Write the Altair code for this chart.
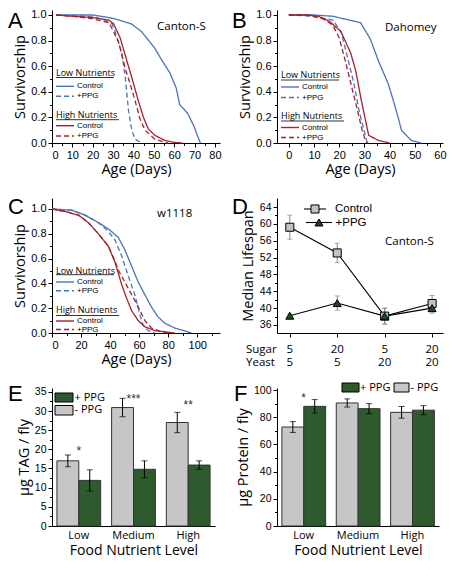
import altair as alt
import pandas as pd

BLUE = "#4a74ba"
RED = "#a3232d"
GREEN = "#2e5b2e"
GRAY = "#c6c6c6"
DKGREEN = "#1f4a1f"
TFONT = "Open Sans"
LFONT = "Liberation Sans"

# ---------------- Panel A: Canton-S ----------------
A_low_ctrl_day = [2, 20, 28, 33, 39, 44, 50.5, 53.8, 57.8, 61, 62.7, 66.7, 70, 71.6, 72.9]
A_low_ctrl_s = [1.0, 1.0, 0.98, 0.96, 0.93, 0.87, 0.74, 0.65, 0.55, 0.43, 0.30, 0.23, 0.12, 0.05, 0.0]
A_low_ppg_day = [2, 15, 22, 26, 29.5, 31, 34.3, 36, 37.6, 39.2, 40.8, 44]
A_low_ppg_s = [1.0, 0.99, 0.98, 0.96, 0.93, 0.87, 0.70, 0.51, 0.25, 0.10, 0.03, 0.0]
A_high_ctrl_day = [2, 10, 20, 27.9, 30.3, 33.5, 36.8, 39.2, 42.4, 44.9, 47.3, 50.5, 55.4, 60, 64]
A_high_ctrl_s = [1.0, 0.99, 0.98, 0.96, 0.93, 0.82, 0.64, 0.51, 0.33, 0.20, 0.11, 0.06, 0.02, 0.005, 0.0]
A_high_ppg_day = [2, 10, 20, 28, 32.7, 36, 38.4, 40.8, 43.2, 45.7, 50.5, 55.4, 57]
A_high_ppg_s = [1.0, 0.99, 0.97, 0.94, 0.79, 0.58, 0.46, 0.33, 0.19, 0.10, 0.03, 0.005, 0.0]

# ---------------- Panel B: Dahomey ----------------
B_low_ctrl_day = [0, 10, 17.5, 24, 28.5, 32.4, 35.6, 39.5, 41.5, 43.4, 44.7, 48.6, 52.5]
B_low_ctrl_s = [1.0, 1.0, 0.99, 0.96, 0.94, 0.81, 0.64, 0.46, 0.33, 0.20, 0.10, 0.02, 0.0]
B_low_ppg_day = [0, 10, 17.5, 20.7, 23.3, 25.9, 27.8, 29.8, 31, 32]
B_low_ppg_s = [1.0, 0.99, 0.96, 0.87, 0.67, 0.46, 0.26, 0.10, 0.01, 0.0]
B_high_ctrl_day = [0, 7, 11.7, 16.2, 20.7, 24.6, 26.6, 28.5, 30.4, 31.7, 35.6, 40]
B_high_ctrl_s = [1.0, 1.0, 0.99, 0.95, 0.87, 0.70, 0.56, 0.36, 0.18, 0.06, 0.02, 0.0]
B_high_ppg_day = [0, 7, 13.6, 17.5, 20, 22.7, 25.3, 27.2, 29.1, 30.4, 31]
B_high_ppg_s = [1.0, 1.0, 0.97, 0.92, 0.82, 0.62, 0.41, 0.26, 0.10, 0.02, 0.0]

# ---------------- Panel C: w1118 ----------------
C_low_ctrl_day = [0, 13.7, 22.8, 32, 38.8, 45.7, 50.2, 54.8, 59.4, 63.9, 68.5, 73, 77.6, 84.5, 93.6, 96]
C_low_ctrl_s = [1.0, 0.99, 0.95, 0.89, 0.84, 0.77, 0.67, 0.54, 0.41, 0.31, 0.21, 0.13, 0.08, 0.04, 0.01, 0.0]
C_low_ppg_day = [0, 13.7, 22.8, 32, 38.8, 43.4, 48, 52.5, 57, 60.5, 62.8, 66.2, 70.8]
C_low_ppg_s = [1.0, 0.99, 0.95, 0.89, 0.82, 0.75, 0.62, 0.46, 0.31, 0.15, 0.06, 0.02, 0.0]
C_high_ctrl_day = [0, 9, 18.3, 25, 32, 38.8, 43.4, 48, 51.4, 54.8, 59.4, 64, 70.8, 77.6, 84.5]
C_high_ctrl_s = [1.0, 0.98, 0.95, 0.89, 0.80, 0.70, 0.57, 0.39, 0.28, 0.18, 0.10, 0.05, 0.02, 0.01, 0.0]
C_high_ppg_day = [0, 9, 18.3, 25, 32, 38.8, 43.4, 46, 50.2, 54.8, 59.4, 64, 68.5, 75, 80]
C_high_ppg_s = [1.0, 0.98, 0.95, 0.89, 0.80, 0.70, 0.58, 0.50, 0.41, 0.31, 0.21, 0.10, 0.04, 0.01, 0.0]

# ---------------- Panel D: median lifespan ----------------
D_pos = [0, 1, 2, 3]
D_sugar = ["5", "20", "5", "20"]
D_yeast = ["5", "5", "20", "20"]
D_ctrl = [59.2, 53.1, 38.1, 41.1]
D_ctrl_err = [2.85, 2.3, 1.9, 1.9]
D_ppg = [38.2, 41.2, 38.1, 40.0]
D_ppg_err = [0.4, 1.7, 1.9, 1.2]

# ---------------- Panels E, F: TAG and protein ----------------
levels = ["Low", "Medium", "High"]
E_minus = [17.0, 30.9, 27.0]
E_minus_err = [1.55, 2.4, 2.65]
E_plus = [11.9, 14.8, 15.9]
E_plus_err = [2.75, 2.2, 1.1]
E_sig = ["*", "***", "**"]
E_sig_y = [20.7, 34.3, 32.5]

F_minus = [72.8, 90.5, 83.6]
F_minus_err = [4.0, 3.0, 4.3]
F_plus = [88.0, 86.3, 85.2]
F_plus_err = [5.0, 3.7, 3.3]
F_sig = ["*", "", ""]
F_sig_y = [97.0, 0, 0]

TRT = ["Control", "+PPG"]
GROUPS = ["Low Nutrients", "High Nutrients"]
BAR_TRT = ["+ PPG", "- PPG"]


def one_row():
    return pd.DataFrame({"k": [0]})


def label(txt, x, y, size, font=TFONT, align="left", baseline="middle"):
    return alt.Chart(one_row()).mark_text(
        text=txt, font=font, fontSize=size, align=align, baseline=baseline, color="black"
    ).encode(x=alt.value(x), y=alt.value(y))


def seg(x1, x2, y, color="black", width=0.8, dash=None):
    kw = {"color": color, "strokeWidth": width}
    if dash:
        kw["strokeDash"] = dash
    return alt.Chart(one_row()).mark_rule(**kw).encode(x=alt.value(x1), x2=alt.value(x2), y=alt.value(y))


def box(x1, x2, y1, y2, fill):
    return alt.Chart(one_row()).mark_rect(fill=fill, stroke="black", strokeWidth=1).encode(
        x=alt.value(x1), x2=alt.value(x2), y=alt.value(y1), y2=alt.value(y2))


def symbol(shape, x, y, fill):
    return alt.Chart(one_row()).mark_point(shape=shape, filled=True, fill=fill, stroke="black",
                                           strokeWidth=1, size=65, opacity=1).encode(
        x=alt.value(x), y=alt.value(y))


def surv_legend(lx, ys, ul_ends):
    """ys: (low title, low underline, ctrl, ppg, high title, high underline, ctrl, ppg)"""
    out = []
    for g, (col, ty, uy, cy, py, ue) in enumerate([
            (BLUE, ys[0], ys[1], ys[2], ys[3], ul_ends[0]),
            (RED, ys[4], ys[5], ys[6], ys[7], ul_ends[1])]):
        out.append(label(GROUPS[g], lx, ty, 9))
        out.append(seg(lx, ue, uy))
        out.append(seg(lx, lx + 18, cy, col, 1.4))
        out.append(seg(lx, lx + 18, py, col, 1.4, [5, 3]))
        out.append(label(TRT[0], lx + 21, cy, 8, font=LFONT))
        out.append(label(TRT[1], lx + 21, py, 8, font=LFONT))
    return out


def survival_panel(series, xdom, xmajor, xminor, ytop, w, h, letter, strain, strain_xy,
                   leg_x, leg_ys, ul_ends, letter_xy):
    rows = []
    for grp, trt, days, surv in series:
        for d, s in zip(days, surv):
            rows.append({"day": d, "surv": s, "grp": grp, "trt": trt})
    df = pd.DataFrame(rows)
    xs = alt.Scale(domain=xdom, nice=False, zero=False)
    ys = alt.Scale(domain=[0, ytop], nice=False, zero=False)
    xax = alt.Axis(values=xmajor, title="Age (Days)", tickSize=4, labelPadding=2,
                   titlePadding=2, labelFontSize=11, titleFontSize=14.5)
    yax = alt.Axis(values=[0, 0.2, 0.4, 0.6, 0.8, 1.0], format=".1f", title="Survivorship",
                   tickSize=4, labelPadding=2, titlePadding=3, labelFontSize=11, titleFontSize=14.5)

    def grp_layer(grp, col, with_axes):
        return alt.Chart(df).transform_filter(alt.datum.grp == grp).mark_line(strokeWidth=1.3).encode(
            x=alt.X("day:Q", scale=xs, axis=xax if with_axes else None),
            y=alt.Y("surv:Q", scale=ys, axis=yax if with_axes else None),
            color=alt.Color("trt:N", scale=alt.Scale(domain=TRT, range=[col, col]), legend=None),
            strokeDash=alt.StrokeDash("trt:N", scale=alt.Scale(domain=TRT, range=[[1, 0], [5, 3]]),
                                      legend=None),
            order="day:Q",
        )

    minor = alt.Chart(df).mark_point(opacity=0).encode(
        x=alt.X("day:Q", scale=xs, axis=alt.Axis(values=xminor, labels=False, domain=False, title=None,
                                                   tickSize=2.5, orient="bottom")),
        y=alt.Y("surv:Q", scale=ys, axis=alt.Axis(values=[0.1, 0.3, 0.5, 0.7, 0.9], labels=False,
                                                    domain=False, title=None, tickSize=2.5, orient="left")),
    )
    layers = [grp_layer("Low", BLUE, True), grp_layer("High", RED, False), minor]
    layers += surv_legend(leg_x, leg_ys, ul_ends)
    layers += [label(strain, strain_xy[0], strain_xy[1], 11.5),
               label(letter, letter_xy[0], letter_xy[1], 22, font=LFONT, baseline="top")]
    return alt.layer(*layers).resolve_scale(color="independent", strokeDash="independent").resolve_axis(
        x="independent", y="independent").properties(width=w, height=h)


A = survival_panel(
    [("Low", "Control", A_low_ctrl_day, A_low_ctrl_s), ("Low", "+PPG", A_low_ppg_day, A_low_ppg_s),
     ("High", "Control", A_high_ctrl_day, A_high_ctrl_s), ("High", "+PPG", A_high_ppg_day, A_high_ppg_s)],
    [0, 82.5], list(range(0, 81, 10)), list(range(5, 81, 10)), 1.039, 168, 133,
    "A", "Canton-S", (105, 17), 4, (63, 67.5, 76.3, 86.3, 104.5, 109.7, 115.7, 126), (62, 67), (-44, 0.5))

B = survival_panel(
    [("Low", "Control", B_low_ctrl_day, B_low_ctrl_s), ("Low", "+PPG", B_low_ppg_day, B_low_ppg_s),
     ("High", "Control", B_high_ctrl_day, B_high_ctrl_s), ("High", "+PPG", B_high_ppg_day, B_high_ppg_s)],
    [-4.7, 61.2], list(range(0, 61, 10)), [-5] + list(range(5, 61, 10)), 1.039, 166, 133,
    "B", "Dahomey", (108, 18), 4, (64.7, 70, 77, 87.5, 106, 111, 117.5, 127.5), (62, 67), (-45, 0.5))

C = survival_panel(
    [("Low", "Control", C_low_ctrl_day, C_low_ctrl_s), ("Low", "+PPG", C_low_ppg_day, C_low_ppg_s),
     ("High", "Control", C_high_ctrl_day, C_high_ctrl_s), ("High", "+PPG", C_high_ppg_day, C_high_ppg_s)],
    [0, 115.7], list(range(0, 101, 20)), list(range(10, 111, 20)), 1.0887, 168, 135,
    "C", "w1118", (105, 16), 4, (72.5, 76.7, 84, 92.7, 112, 117.5, 123, 131.5), (62, 67), (-44, -1))

# ---- Panel D ----
d_rows = []
for i in range(4):
    d_rows.append({"pos": D_pos[i], "val": D_ctrl[i], "lo": D_ctrl[i] - D_ctrl_err[i],
                   "hi": D_ctrl[i] + D_ctrl_err[i], "series": "Control"})
    d_rows.append({"pos": D_pos[i], "val": D_ppg[i], "lo": D_ppg[i] - D_ppg_err[i],
                   "hi": D_ppg[i] + D_ppg_err[i], "series": "+PPG"})
ddf = pd.DataFrame(d_rows)
dxs = alt.Scale(domain=[-0.27, 3.23], nice=False, zero=False)
dys = alt.Scale(domain=[34.1, 66.14], nice=False, zero=False)
dx_ax = alt.Axis(values=[0, 0.5, 1, 1.5, 2, 2.5, 3], labels=False, title=None, tickSize=4)
dy_ax = alt.Axis(values=list(range(36, 65, 4)), title="Median Lifespan", tickSize=4, labelPadding=2,
                 titlePadding=4, labelFontSize=10.5, titleFontSize=14.5)
dbase = alt.Chart(ddf)
d_lines = dbase.mark_line(strokeWidth=1.1, color="black").encode(
    x=alt.X("pos:Q", scale=dxs, axis=dx_ax),
    y=alt.Y("val:Q", scale=dys, axis=dy_ax),
    detail="series:N",
)
d_err = dbase.mark_rule(color="#8a8a8a", strokeWidth=1).encode(
    x=alt.X("pos:Q", scale=dxs), y=alt.Y("lo:Q", scale=dys, axis=None), y2="hi:Q")
d_cap_lo = dbase.mark_tick(color="#8a8a8a", size=5, thickness=1, orient="horizontal").encode(
    x=alt.X("pos:Q", scale=dxs), y=alt.Y("lo:Q", scale=dys, axis=None))
d_cap_hi = dbase.mark_tick(color="#8a8a8a", size=5, thickness=1, orient="horizontal").encode(
    x=alt.X("pos:Q", scale=dxs), y=alt.Y("hi:Q", scale=dys, axis=None))
d_pts = dbase.mark_point(filled=True, size=65, stroke="black", strokeWidth=1, opacity=1).encode(
    x=alt.X("pos:Q", scale=dxs),
    y=alt.Y("val:Q", scale=dys, axis=None),
    shape=alt.Shape("series:N", scale=alt.Scale(domain=TRT, range=["square", "triangle-up"]), legend=None),
    fill=alt.Fill("series:N", scale=alt.Scale(domain=TRT, range=["#c2c2c2", DKGREEN]), legend=None),
)
d_minor = dbase.mark_point(opacity=0).encode(
    x=alt.X("pos:Q", scale=dxs),
    y=alt.Y("val:Q", scale=dys, axis=alt.Axis(values=list(range(34, 65, 4)), labels=False, domain=False,
                                                title=None, tickSize=2.5, orient="left")))
sy_df = pd.DataFrame({"pos": D_pos, "sugar": D_sugar, "yeast": D_yeast})
d_sugar = alt.Chart(sy_df).mark_text(font=TFONT, fontSize=11.5, baseline="middle").encode(
    x=alt.X("pos:Q", scale=dxs), y=alt.value(152), text="sugar:N")
d_yeast = alt.Chart(sy_df).mark_text(font=TFONT, fontSize=11.5, baseline="middle").encode(
    x=alt.X("pos:Q", scale=dxs), y=alt.value(165), text="yeast:N")
d_legend = [
    seg(27, 49, 11, "black", 1.1), symbol("square", 38, 11, "#c2c2c2"),
    label(TRT[0], 58, 11, 11.5, font=LFONT),
    seg(29, 55, 24.5, "black", 1.1), symbol("triangle-up", 42, 24.5, DKGREEN),
    label(TRT[1], 58.5, 24.5, 11.5, font=LFONT),
]
D = alt.layer(
    d_err, d_cap_lo, d_cap_hi, d_lines, d_pts, d_minor, d_sugar, d_yeast, *d_legend,
    label("Sugar", -31, 152, 11.5), label("Yeast", -31, 165, 11.5),
    label("Canton-S", 108, 44, 11.5), label("D", -45, -1, 22, font=LFONT, baseline="top"),
).resolve_scale(shape="independent", fill="independent").resolve_axis(
    y="independent").properties(width=166, height=135)


def bar_panel(minus, minus_err, plus, plus_err, sig, sig_y, ytop, yvals, yminor, ytitle, legend_layers,
              letter, letter_xy, w):
    rows = []
    for i, lv in enumerate(levels):
        rows.append({"level": lv, "trt": "- PPG", "val": minus[i], "lo": minus[i] - minus_err[i],
                     "hi": minus[i] + minus_err[i]})
        rows.append({"level": lv, "trt": "+ PPG", "val": plus[i], "lo": plus[i] - plus_err[i],
                     "hi": plus[i] + plus_err[i]})
    df = pd.DataFrame(rows)
    xs = alt.Scale(domain=levels, paddingInner=0.2, paddingOuter=0.09)
    ys = alt.Scale(domain=[0, ytop], nice=False, zero=True)
    xo = alt.XOffset("trt:N", scale=alt.Scale(domain=["- PPG", "+ PPG"], paddingInner=0, paddingOuter=0))
    xax = alt.Axis(title="Food Nutrient Level", labelAngle=0, ticks=False, labelPadding=3,
                   labelFontSize=11, labelFont=TFONT, titleFontSize=14, titlePadding=3)
    yax = alt.Axis(values=yvals, title=ytitle, tickSize=4, labelPadding=2, titlePadding=3,
                   labelFontSize=10.5, titleFontSize=14.5)
    base = alt.Chart(df)
    xenc = alt.X("level:N", scale=xs, sort=levels, axis=xax)
    bars = base.mark_bar(stroke="#333333", strokeWidth=1).encode(
        x=xenc,
        xOffset=xo,
        y=alt.Y("val:Q", scale=ys, axis=yax),
        color=alt.Color("trt:N", scale=alt.Scale(domain=BAR_TRT, range=[GREEN, GRAY]), legend=None),
    )
    err = base.mark_rule(color="black", strokeWidth=1).encode(
        x=xenc, xOffset=xo, y=alt.Y("lo:Q", scale=ys, axis=None), y2="hi:Q")
    cap_lo = base.mark_tick(color="black", size=6, thickness=1, orient="horizontal").encode(
        x=xenc, xOffset=xo, y=alt.Y("lo:Q", scale=ys, axis=None))
    cap_hi = base.mark_tick(color="black", size=6, thickness=1, orient="horizontal").encode(
        x=xenc, xOffset=xo, y=alt.Y("hi:Q", scale=ys, axis=None))
    sdf = pd.DataFrame({"level": levels, "sig": sig, "sy": sig_y})
    stars = alt.Chart(sdf).mark_text(font=LFONT, fontSize=12, baseline="middle", dy=4, color="#333").encode(
        x=xenc, y=alt.Y("sy:Q", scale=ys, axis=None), text="sig:N")
    minor = base.mark_point(opacity=0).encode(
        x=xenc,
        y=alt.Y("val:Q", scale=ys, axis=alt.Axis(values=yminor, labels=False, domain=False, title=None,
                                                   tickSize=2.5, orient="left")))
    return alt.layer(bars, err, cap_lo, cap_hi, stars, minor, *legend_layers,
                     label(letter, letter_xy[0], letter_xy[1], 22, font=LFONT, baseline="top")
                     ).resolve_axis(y="independent").properties(width=w, height=138)


E_legend = [
    box(3, 21, 5, 14, GREEN), label(BAR_TRT[0], 22.5, 9.5, 11),
    box(3, 21, 17.5, 27, GRAY), label(BAR_TRT[1], 22.5, 22.3, 11),
]
F_legend = [
    box(65, 82, -5, 4, GREEN), label(BAR_TRT[0], 83, -0.5, 11),
    box(117, 132, -5, 4, GRAY), label(BAR_TRT[1], 133.5, -0.5, 11),
]

E = bar_panel(E_minus, E_minus_err, E_plus, E_plus_err, E_sig, E_sig_y, 36, list(range(0, 36, 5)),
              [2.5 + 5 * i for i in range(7)], "µg TAG / fly", E_legend, "E", (-44, -4), 163)
F = bar_panel(F_minus, F_minus_err, F_plus, F_plus_err, F_sig, F_sig_y, 101.5, list(range(0, 101, 20)),
              list(range(10, 100, 20)), "µg Protein / fly", F_legend, "F", (-43, -4), 162)

chart = alt.concat(A, B, C, D, E, F, columns=2, spacing={"row": 55, "column": 57}, bounds="flush",
                   padding=0).resolve_scale(
    color="independent", strokeDash="independent", shape="independent", fill="independent"
).configure_view(stroke=None).configure_axis(
    grid=False, domainColor="black", tickColor="black", labelColor="black", titleColor="black",
    labelFont=LFONT, titleFont=TFONT, titleFontWeight="normal", domainWidth=1, tickWidth=1,
)

chart.save("out.html", embed_options={"renderer": "svg", "actions": False})
